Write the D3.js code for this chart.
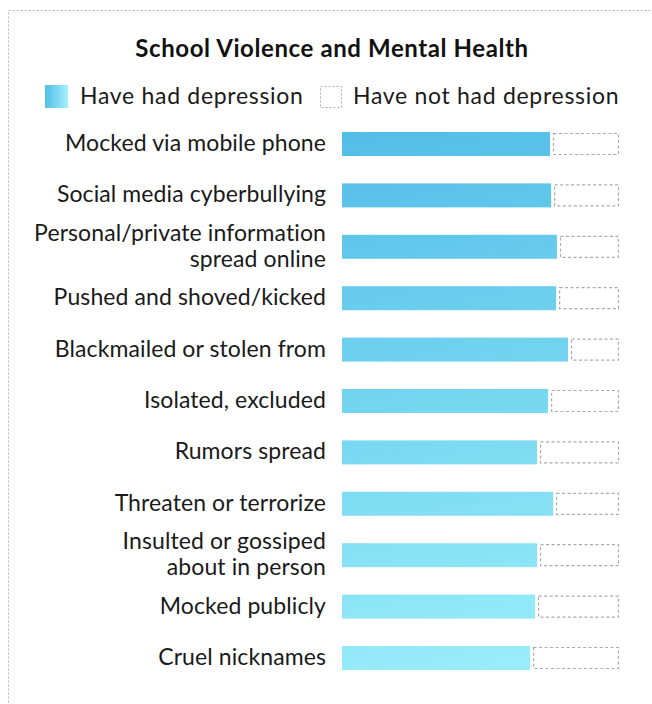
<!DOCTYPE html>
<html>
<head>
<meta charset="utf-8">
<script src="https://cdn.jsdelivr.net/npm/d3@7"></script>
<style>
  body { margin: 0; background: #fff; }
  svg { display: block; font-family: Lato, "Open Sans", sans-serif; }
  .label { font-size: 23px; letter-spacing: 0.1px; fill: #1a1a1a; }
  .legend-text { font-size: 23px; letter-spacing: 0.7px; fill: #1a1a1a; }
  .title { font-size: 24px; font-weight: bold; letter-spacing: 0.6px; fill: #111; }
</style>
</head>
<body>
<svg width="652" height="704"></svg>
<script>
// data
const categories = [
  "Mocked via mobile phone",
  "Social media cyberbullying",
  "Personal/private information|spread online",
  "Pushed and shoved/kicked",
  "Blackmailed or stolen from",
  "Isolated, excluded",
  "Rumors spread",
  "Threaten or terrorize",
  "Insulted or gossiped|about in person",
  "Mocked publicly",
  "Cruel nicknames"
];
const hadDepression = [75.1, 75.5, 77.6, 77.3, 81.6, 74.4, 70.4, 76.2, 70.4, 69.7, 67.9];
const notHadDepression = hadDepression.map((d) => 100 - d);
const legendLabels = ["Have had depression", "Have not had depression"];

const svg = d3.select("svg");

// ===========================================================================
// gradients
// ===========================================================================
const defs = svg.append("defs");

const barGrad = defs.append("linearGradient")
  .attr("id", "barGrad")
  .attr("gradientUnits", "userSpaceOnUse")
  .attr("x1", 342).attr("y1", 132)
  .attr("x2", 460).attr("y2", 672);
barGrad.append("stop").attr("offset", "0%").attr("stop-color", "#52bde7");
barGrad.append("stop").attr("offset", "100%").attr("stop-color", "#98edf9");

const keyGrad = defs.append("linearGradient")
  .attr("id", "keyGrad")
  .attr("x1", "0%").attr("y1", "0%")
  .attr("x2", "100%").attr("y2", "0%");
keyGrad.append("stop").attr("offset", "0%").attr("stop-color", "#52bee7");
keyGrad.append("stop").attr("offset", "100%").attr("stop-color", "#a2f1fb");

// outer dotted frame (runs off the right/bottom edge)
svg.append("rect")
  .attr("x", 8.5).attr("y", 10.5)
  .attr("width", 700).attr("height", 760)
  .attr("fill", "none")
  .attr("stroke", "#b8b8b8")
  .attr("stroke-dasharray", "2,2");

// title
svg.append("text")
  .attr("class", "title")
  .attr("x", 332).attr("y", 57)
  .attr("text-anchor", "middle")
  .text("School Violence and Mental Health");

// ===========================================================================
// legend
// ===========================================================================
const legend = svg.append("g").attr("class", "legend");
legend.append("rect")
  .attr("x", 45).attr("y", 85).attr("width", 23).attr("height", 23)
  .attr("fill", "url(#keyGrad)");
legend.append("text")
  .attr("class", "legend-text")
  .attr("x", 80).attr("y", 104)
  .text(legendLabels[0]);
legend.append("rect")
  .attr("x", 320.5).attr("y", 86.5).attr("width", 21).attr("height", 21)
  .attr("fill", "none")
  .attr("stroke", "#aaa")
  .attr("stroke-dasharray", "2,2");
legend.append("text")
  .attr("class", "legend-text")
  .attr("x", 353).attr("y", 104)
  .text(legendLabels[1]);

// ===========================================================================
// bars
// ===========================================================================
const x = d3.scaleLinear().domain([0, 100]).range([342, 619]);
const y = d3.scalePoint().domain(categories).range([144, 658]);
const barH = 24;
const gap = 3;

const rows = svg.append("g")
  .selectAll("g")
  .data(categories)
  .enter()
  .append("g")
  .attr("transform", (d) => `translate(0,${y(d)})`);

rows.append("rect")
  .attr("x", x(0))
  .attr("y", -barH / 2)
  .attr("height", barH)
  .attr("width", (d, i) => x(hadDepression[i]) - x(0))
  .attr("fill", "url(#barGrad)")
  // undo the row shift so the userSpace gradient runs across all bars
  .attr("transform", (d) => `translate(0,${-y(d)})`)
  .attr("y", (d) => y(d) - barH / 2);

rows.append("rect")
  .attr("x", (d, i) => x(hadDepression[i]) + gap + 0.5)
  .attr("y", -barH / 2 + 1.5)
  .attr("height", barH - 3)
  .attr("width", (d, i) => x(hadDepression[i] + notHadDepression[i]) - x(hadDepression[i]) - gap - 1)
  .attr("fill", "none")
  .attr("stroke", "#aaa")
  .attr("stroke-width", 1.2)
  .attr("stroke-dasharray", "3,2.5");

// labels, split on "|" into two lines
rows.append("text")
  .attr("class", "label")
  .attr("text-anchor", "end")
  .each(function (d) {
    const lines = d.split("|");
    const t = d3.select(this);
    lines.forEach((line, j) => {
      t.append("tspan")
        .attr("x", 326)
        .attr("y", 7 + (j - (lines.length - 1) / 2) * 26)
        .text(line);
    });
  });
</script>
</body>
</html>
